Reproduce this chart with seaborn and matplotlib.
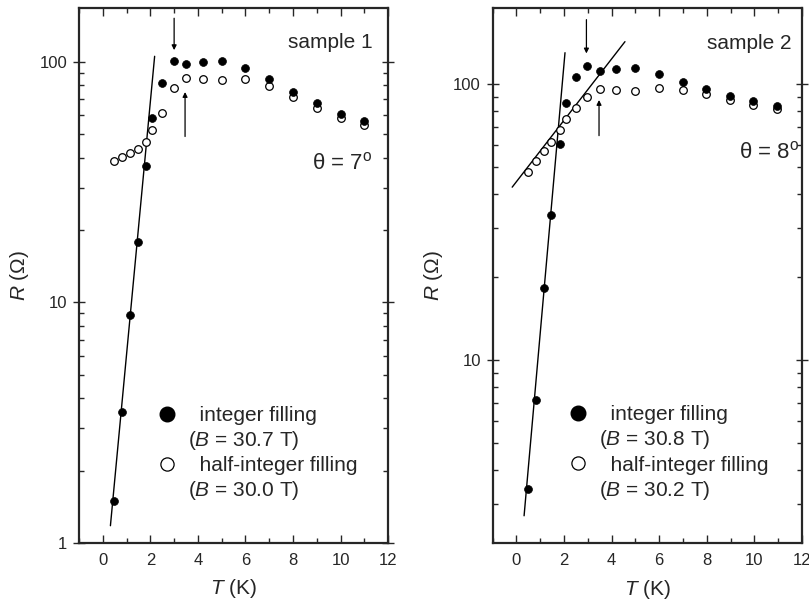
import matplotlib
matplotlib.use('Agg')
import matplotlib.pyplot as plt
import numpy as np
import pandas as pd
import seaborn as sns
from matplotlib.lines import Line2D
from matplotlib.ticker import LogLocator, MultipleLocator, FuncFormatter, NullFormatter

# sample 1, theta = 7 deg
t_int_1 = [0.46, 0.79, 1.15, 1.46, 1.81, 2.09, 2.5, 3.0, 3.5, 4.2, 5.0, 6.0, 7.0, 8.0, 9.0, 10.0, 11.0]
r_int_1 = [1.50, 3.52, 8.9, 17.9, 36.9, 58.4, 82, 100.7, 98.5, 100.4, 101.3, 94.4, 85, 75.3, 67.5, 61, 56.8]
t_half_1 = [0.45, 0.80, 1.15, 1.46, 1.83, 2.09, 2.5, 3.0, 3.5, 4.2, 5.0, 6.0, 7.0, 8.0, 9.0, 10.0, 11.0]
r_half_1 = [38.9, 40.3, 41.8, 43.3, 46.6, 52.1, 61.1, 77.6, 85.5, 85, 84, 84.7, 79.2, 71.4, 64.6, 58.6, 54.9]
fit_t_1 = [0.32, 2.18]
fit_r_1 = [1.18, 105.6]
arrow_down_1 = (3.0, 152, 112)   # T, R start, R end
arrow_up_1 = (3.46, 49, 75)

# sample 2, theta = 8 deg
t_int_2 = [0.47, 0.82, 1.16, 1.44, 1.82, 2.10, 2.49, 2.98, 3.51, 4.17, 4.99, 5.97, 6.98, 7.97, 8.96, 9.96, 10.94]
r_int_2 = [3.40, 7.18, 18.3, 33.6, 60.7, 85.5, 106, 116.5, 111.4, 113, 114.6, 108.7, 101.9, 95.7, 90.7, 86.6, 83]
t_half_2 = [0.50, 0.82, 1.17, 1.47, 1.83, 2.10, 2.52, 2.98, 3.51, 4.17, 4.99, 5.97, 6.98, 7.97, 8.96, 9.96, 10.94]
r_half_2 = [48, 52.6, 57.1, 61.6, 68.2, 74.6, 81.6, 90, 95.9, 94.9, 94.3, 96.5, 95.1, 91.8, 87.5, 84.1, 81.5]
fit_t_2 = [0.32, 2.04]
fit_r_2 = [2.73, 129.8]
fit2_t_2 = [-0.18, 4.56]
fit2_r_2 = [42.3, 142.3]
arrow_down_2 = (2.94, 171, 129)
arrow_up_2 = (3.47, 65, 87.5)

sns.set_style('ticks')
plt.rcParams['font.family'] = ['Liberation Sans', 'DejaVu Sans']
plt.rcParams['mathtext.fontset'] = 'custom'
plt.rcParams['mathtext.rm'] = 'Liberation Sans'
plt.rcParams['mathtext.it'] = 'Liberation Sans:italic'

panels = [
    dict(t_int=t_int_1, r_int=r_int_1, t_half=t_half_1, r_half=r_half_1,
         fits=[(fit_t_1, fit_r_1)], arrows=[arrow_down_1, arrow_up_1],
         ylim=(1, 168), name='sample 1', theta='θ = 7$^{\\rm o}$',
         b_int='30.7', b_half='30.0', pos=[0.0977, 0.095, 0.382, 0.892],
         theta_xy=(0.95, 0.71), name_xy=(0.95, 0.936), leg_xy=(0.252, 0.256)),
    dict(t_int=t_int_2, r_int=r_int_2, t_half=t_half_2, r_half=r_half_2,
         fits=[(fit_t_2, fit_r_2), (fit2_t_2, fit2_r_2)], arrows=[arrow_down_2, arrow_up_2],
         ylim=(2.17, 188), name='sample 2', theta='θ = 8$^{\\rm o}$',
         b_int='30.8', b_half='30.2', pos=[0.609, 0.0945, 0.3823, 0.8917],
         theta_xy=(0.99, 0.731), name_xy=(0.967, 0.935), leg_xy=(0.244, 0.258)),
]

fig, axes = plt.subplots(1, 2, figsize=(8.09, 6.0), dpi=100)

for ax, p in zip(axes, panels):
    ax.set_position(p['pos'])
    for ft, fr in p['fits']:
        sns.lineplot(x=ft, y=fr, ax=ax, color='black', lw=1.0, estimator=None, sort=False)
    df_int = pd.DataFrame({'T': p['t_int'], 'R': p['r_int']})
    df_half = pd.DataFrame({'T': p['t_half'], 'R': p['r_half']})
    sns.scatterplot(data=df_half, x='T', y='R', ax=ax, marker='o', s=30,
                    facecolor='white', edgecolor='black', linewidth=0.9, zorder=3)
    sns.scatterplot(data=df_int, x='T', y='R', ax=ax, marker='o', s=32,
                    color='black', edgecolor='black', linewidth=0.5, zorder=4)
    for t, r0, r1 in p['arrows']:
        ax.annotate('', xy=(t, r1), xytext=(t, r0),
                    arrowprops=dict(arrowstyle='-|>', color='black', lw=0.9,
                                    mutation_scale=7, shrinkA=0, shrinkB=0))

    ax.set_yscale('log')
    ax.set_xlim(-1, 12)
    ax.set_ylim(*p['ylim'])
    ax.xaxis.set_major_locator(MultipleLocator(2))
    ax.xaxis.set_minor_locator(MultipleLocator(1))
    ax.yaxis.set_major_locator(LogLocator(base=10))
    ax.yaxis.set_minor_locator(LogLocator(base=10, subs=np.arange(2, 10)))
    ax.yaxis.set_major_formatter(FuncFormatter(lambda v, pos: '%g' % v))
    ax.yaxis.set_minor_formatter(NullFormatter())
    ax.tick_params(which='both', direction='in', top=True, right=True, labelsize=12, width=1.0)
    ax.tick_params(which='major', length=6, pad=7)
    ax.tick_params(which='minor', length=3.5)
    ax.tick_params(axis='y', which='major', direction='inout', length=9, pad=4)
    for s in ax.spines.values():
        s.set_linewidth(1.6)
    ax.set_xlabel('$\\it{T}$ (K)', fontsize=15, labelpad=7)
    ax.set_ylabel('$\\it{R}$ ($\\Omega$)', fontsize=15, labelpad=6)

    ax.text(*p['name_xy'], p['name'], transform=ax.transAxes, ha='right', va='center', fontsize=15)
    ax.text(*p['theta_xy'], p['theta'], transform=ax.transAxes, ha='right', va='center', fontsize=16)

    handles = [Line2D([], [], marker='o', ls='', color='black', markersize=10.5),
               Line2D([], [], ls='', marker=''),
               Line2D([], [], marker='o', ls='', markerfacecolor='white', markeredgecolor='black',
                      markersize=9.5, markeredgewidth=0.9),
               Line2D([], [], ls='', marker='')]
    labels = ['  integer filling', '($\\it{B}$ = %s T)' % p['b_int'],
              '  half-integer filling', '($\\it{B}$ = %s T)' % p['b_half']]
    ax.legend(handles, labels, loc='upper left', bbox_to_anchor=p['leg_xy'], frameon=False,
              fontsize=15, handlelength=0.97, handletextpad=0.5, labelspacing=0.2, borderpad=0,
              borderaxespad=0)

fig.savefig('out.png', dpi=100)
